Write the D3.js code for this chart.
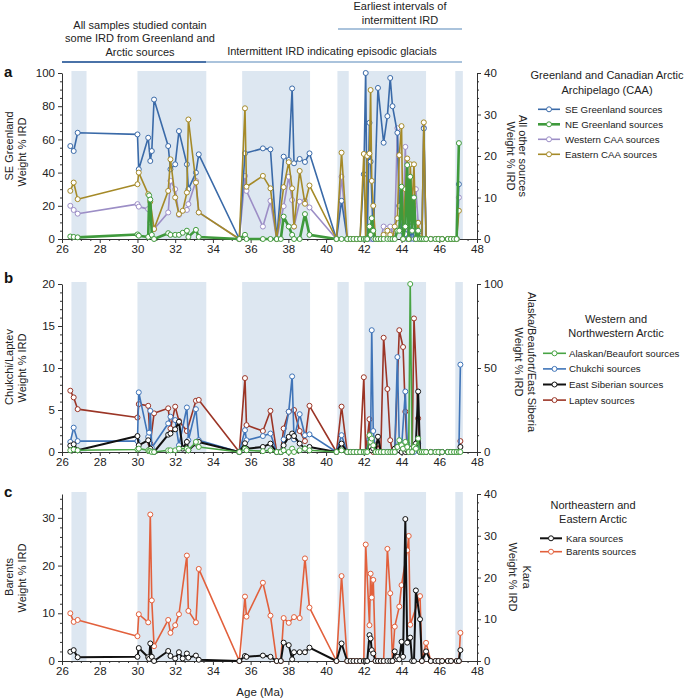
<!DOCTYPE html>
<html><head><meta charset="utf-8">
<script src="https://cdn.jsdelivr.net/npm/d3@7"></script>
<style>
body{margin:0;background:#fff;}
svg{font-family:"Liberation Sans",Arial,Helvetica,sans-serif;}
</style></head><body>
<svg id="chart" width="685" height="699"></svg>
<script>
// ---------------- DATA ----------------
const ages = [
26.44,26.62,26.83,30.00,30.07,30.57,30.62,30.68,30.76,30.88,
31.63,31.75,32.00,32.20,32.40,32.62,32.70,33.10,33.25,35.40,
35.70,35.78,36.65,37.05,37.38,37.60,37.75,38.02,38.20,38.30,
38.60,38.88,39.12,40.55,40.82,41.12,41.30,41.45,41.62,41.80,
42.00,42.10,42.18,42.30,42.36,42.42,42.50,42.62,42.75,42.90,
43.05,43.25,43.40,43.52,43.64,43.78,43.88,44.00,44.08,44.20,
44.30,44.38,44.46,44.56,44.66,44.76,44.88,44.98,45.08,45.18,
45.30,45.55,45.80,45.95,46.15,46.45,46.62,46.78,46.92,47.04,
47.12];

// Panel a (SE Greenland on left axis, others on right axis)
const seGreenland = [
56,53,64,63,42,61,null,47,53,84,
56,42,45,65,null,45,30,40,51,0,
51.6,null,54.6,54,0,null,49.6,47.6,90.7,45.6,
48.2,46.4,51.6,0,23,0,0,0,0,0,
39,100,0,70,46.6,null,0,null,91,null,
58,74,97,80,null,64,20,5,0,3,
0,8,0,5,0,3,0,2,0,66.6,
0,0,0,0,0,0,0,0,0,33,
null];
const neGreenland = [
0.6,0.5,0.4,1.1,0.8,0.5,10.5,9.5,1,0,
1.4,1,1,1,1.5,2,0.5,2.2,0.5,0,
1,0,0,0,0,0,5.4,3,1,0,
0,6,1,0,0,0,0,0,0,0,
0,0,0,3,1,5,2,0,0,0,
0,0,0,0,0,2,2,12.6,0,3,
17.8,0,15,2,10,0,2,0,0,0,
0,0,0,0,0,0,0,0,0,23.1,
null];
const westernCAA = [
8,7,6.1,8.4,7.8,7.2,null,4,null,2.4,
6.4,14,12,5.8,null,7,8.4,14,6.4,0,
15.2,11.6,3,9.2,0,null,7.9,15,9.4,3,
9,9.2,7.6,0,15,0,0,0,0,0,
0,0,0,0,0,0,0,0,0,0,
3,2.5,3,1,2,26.7,8,12,3,22.2,
6,2,10,4,8,12,4,0,0,26.8,
0,0,0,0,0,0,0,0,0,10,
null];
const easternCAA = [
11.6,13.6,9.6,13.2,16,10.8,null,9,null,2.4,
11.6,19.2,10,6,6.8,11.2,28.8,13.6,6.4,0,
31.5,12.6,15.2,12.2,0,null,12.5,18.5,12.2,3,
16.4,8.5,12.9,0,20.8,0,0,0,0,0,
20.5,0,20,20.6,35.9,14,8,0,0,0,
1,2,1,0,3,5,20.2,27.2,0,12,
19.4,0,18,8,18,0,3.9,0,0,28.1,
0,0,0,0,0,0,0,0,0,6.8,
null];

// Panel b (Chukchi, Laptev on left; Alaskan/Beaufort, East Siberian on right)
const alaskanBeaufort = [
1,1.5,1,1.5,2,1,0.5,0.5,0,0,
1,1,1,2,null,2,1,6,3,0,
2,1,0.5,1,0,0,1,0,2,0,
1,2,1,0,1,0,0,0,0,0,
0,0,0,10,6,8,4,0,0,0,
0,0,0,0,0,3,7,4,2,6,
3,0,100,0,3,2,8,0,0,0,
0,0,0,0,0,0,0,0,0,0,
0];
const chukchi = [
1.2,2.9,1.3,1.3,7.1,1.8,2.3,4.9,0.5,null,
3.4,4.2,3.8,0.8,null,5.3,1.4,5.1,1.4,0,
2.6,1.4,1.9,2.2,0,0,1.5,4.8,9.0,1.5,
4.5,2.0,2.1,0,2.0,0,0,0,0,0,
0,0,null,1.5,1.5,14.5,2.5,0,0,0,
0,0,0,0,0,11.3,1,0.5,null,7.2,
1,0,0,0,0,0.5,1,0,0,0,
0,0,0,0,0,0,0,0,0,0,
10.4];
const eastSiberian = [
3.8,4.6,1,9.5,4,7,null,2,null,0,
10.3,11,13.5,18,2,6,1,5,6,0,
5.2,2,3,5,0,0,4,9,11,9.5,
5,2,3,0,5,0,0,0,0,0,
0,0,null,2,3,1,2,0,9.1,0,
0,0,0,0,2,3,1,0,2,0,
1,0,2,0,2,5,36,0,0,0,
0,0,0,0,0,0,0,0,0,0,
3];
const laptev = [
7.3,6.5,5.1,4.1,5.7,5.5,null,1.0,null,4.6,
5.2,2.8,5.4,3.7,null,2.5,null,6.1,6.2,0,
8.8,3.2,2.5,4.9,0,0,2.8,4.8,null,5.0,
2.5,1.3,5.5,0,5.4,0,0,0,0,0,
8.9,0,null,3.9,0.5,null,0,0,1.0,0,
13.6,7.5,1.4,0,0,null,14.5,null,12.5,4.8,
0,0,0,0,15.9,null,4.0,0,0,0,
0,0,0,0,0,0,0,0,0,0,
1.3];

// Panel c (Barents on left, Kara on right)
const kara = [
2.2,2.6,0.9,1.0,3.1,0.9,0.5,4.2,1.0,0,
2.4,1.2,0.6,2.1,0.6,1.8,0.8,1.3,0.3,0,
1.2,1.0,1.3,1.0,0,0,4.4,3.8,0.4,2.1,
2.1,2.1,3.2,0,4.2,0,0,0,0,0,
0,0,0,6.2,5.4,2.6,1.8,0,0,0,
0,0,0,0,2.3,1.0,0.4,4.6,1.0,34,
4.4,null,5.6,0,0,16.9,null,10.0,0,null,
2.3,0,0,0,0,0,0,null,0,0,
2.6];
const barents = [
10.0,8.2,8.6,5.2,9.8,8.1,null,30.7,12.7,3.1,
8.6,5.9,7.5,9.8,null,22.1,10.5,8.1,19.3,0,
13.5,9.3,16.4,9.5,0,0,9.0,8.0,null,9.2,
9.0,21.5,11.2,0,17.8,0,0,0,0,0,
0,24.4,null,7.5,18.3,13.3,17.0,0,0,0,
0,23.5,14.2,0,7.2,null,11.4,15.9,null,null,
23.2,26.2,7.6,null,null,null,null,13.6,0,null,
3.8,0,0,0,0,0,0,null,0,0,
5.9];

// Shaded glacial intervals (Ma)
const glacialBands = [[26.5,27.3],[30.0,33.65],[35.55,39.15],[40.6,41.2],[42.03,45.3],[46.85,47.25]];
const xTicks = d3.range(26, 49, 2);

// ---------------- LAYOUT / STYLE ----------------
const svg = d3.select('#chart');
const x = d3.scaleLinear().domain([26, 48]).range([62, 477]);
const XL = 62, XR = 477;
const FONT = '"Liberation Sans",Arial,Helvetica,sans-serif';

const panels = [
  { letter:'a', letterY:77, y0:239, y1:73, ldom:[0,100], lmaj:20, lmin:5, rdom:[0,40], rmaj:10, rmin:2,
    leftTitle:[['SE Greenland',13,146],['Weight % IRD',26,152]],
    rightTitle:[['All other sources',519,156],['Weight % IRD',507,156]],
    legendTitle:[['Greenland and Canadian Arctic',607,79],['Archipelago (CAA)',607,93.5]],
    legend:{x1:538,x2:560,tx:565,y:109.3,dy:15},
    series:[
      {name:'SE Greenland sources', v:seGreenland, ax:'L', color:'#3a6aa8', w:1.6},
      {name:'NE Greenland sources', v:neGreenland, ax:'R', color:'#3f9a3c', w:2.6},
      {name:'Western CAA sources', v:westernCAA, ax:'R', color:'#9c8ec6', w:1.6},
      {name:'Eastern CAA sources', v:easternCAA, ax:'R', color:'#a58a28', w:1.6}],
    order:[2,0,3,1] },
  { letter:'b', letterY:283, y0:452, y1:284, ldom:[0,20], lmaj:5, lmin:1, rdom:[0,100], rmaj:50, rmin:10,
    leftTitle:[['Chukchi/Laptev',13,367],['Weight % IRD',26,368]],
    rightTitle:[['Alaska/Beaufort/East Siberia',528,362],['Weight % IRD',515,362]],
    legendTitle:[['Western and',616,323],['Northwestern Arctic',616,337]],
    legend:{x1:543,x2:566,tx:569,y:353.3,dy:15.6},
    series:[
      {name:'Alaskan/Beaufort sources', v:alaskanBeaufort, ax:'R', color:'#48a444', w:1.6},
      {name:'Chukchi sources', v:chukchi, ax:'L', color:'#3f74b8', w:1.6},
      {name:'East Siberian sources', v:eastSiberian, ax:'R', color:'#111111', w:2.0},
      {name:'Laptev sources', v:laptev, ax:'L', color:'#9b3526', w:1.6}],
    order:[3,1,2,0] },
  { letter:'c', letterY:497, y0:661, y1:494, ldom:[0,35], lmaj:10, lmin:2, rdom:[0,40], rmaj:10, rmin:2,
    leftTitle:[['Barents',13,577],['Weight % IRD',26,578]],
    rightTitle:[['Kara',523,577],['Weight % IRD',509,577]],
    legendTitle:[['Northeastern and',593,509],['Eastern Arctic',593,523]],
    legend:{x1:540,x2:562,tx:566,y:538.3,dy:13.4},
    series:[
      {name:'Kara sources', v:kara, ax:'R', color:'#111111', w:2.0},
      {name:'Barents sources', v:barents, ax:'L', color:'#e2603c', w:1.6}],
    order:[1,0] }
];

// ---------------- TOP ANNOTATIONS ----------------
const ann = svg.append('g').attr('font-size', 11).attr('fill', '#222');
[['All samples studied contain',29],['some IRD from Greenland and',42],['Arctic sources',56]]
  .forEach(([t,y]) => ann.append('text').attr('x',140).attr('y',y).attr('text-anchor','middle').text(t));
ann.append('text').attr('x',332).attr('y',55).attr('text-anchor','middle').text('Intermittent IRD indicating episodic glacials');
[['Earliest intervals of',10],['intermittent IRD',23.5]]
  .forEach(([t,y]) => ann.append('text').attr('x',400).attr('y',y).attr('text-anchor','middle').text(t));
svg.append('line').attr('x1',62).attr('x2',206).attr('y1',62).attr('y2',62).attr('stroke','#4a72a8').attr('stroke-width',2);
svg.append('line').attr('x1',206).attr('x2',462).attr('y1',62).attr('y2',62).attr('stroke','#aac3dc').attr('stroke-width',2);
svg.append('line').attr('x1',338).attr('x2',462).attr('y1',29).attr('y2',29).attr('stroke','#aac3dc').attr('stroke-width',2);

// ---------------- PANELS ----------------
function minorVals(dom, maj, min) {
  return d3.range(dom[0], dom[1] + 1e-9, min).filter(v => Math.abs(v/maj - Math.round(v/maj)) > 1e-6);
}
function styleAxis(g, fs) {
  g.attr('font-family', FONT).attr('font-size', fs);
  g.selectAll('path.domain').attr('stroke', '#333');
  g.selectAll('.tick line').attr('stroke', '#333');
  g.selectAll('.tick text').attr('fill', '#222');
}

panels.forEach(p => {
  const g = svg.append('g');
  const yL = d3.scaleLinear().domain(p.ldom).range([p.y0, p.y1]);
  const yR = d3.scaleLinear().domain(p.rdom).range([p.y0, p.y1]);

  // bands
  g.append('g').selectAll('rect').data(glacialBands).join('rect')
    .attr('x', d => x(d[0])).attr('width', d => x(d[1]) - x(d[0]))
    .attr('y', p.y1 - 2).attr('height', p.y0 - p.y1 + 2)
    .attr('fill', '#dde7f1');

  // left axis
  const la = g.append('g').attr('transform', `translate(${XL},0)`)
    .call(d3.axisLeft(yL).tickValues(d3.range(p.ldom[0], p.ldom[1] + 1e-9, p.lmaj)).tickSize(4).tickSizeOuter(0).tickPadding(3));
  styleAxis(la, 11.5);
  const lm = g.append('g').attr('transform', `translate(${XL},0)`)
    .call(d3.axisLeft(yL).tickValues(minorVals(p.ldom, p.lmaj, p.lmin)).tickSize(2).tickSizeOuter(0).tickFormat(''));
  lm.select('path.domain').remove(); styleAxis(lm, 11.5);

  // right axis
  const ra = g.append('g').attr('transform', `translate(${XR},0)`)
    .call(d3.axisRight(yR).tickValues(d3.range(p.rdom[0], p.rdom[1] + 1e-9, p.rmaj)).tickSize(4).tickSizeOuter(0).tickPadding(3));
  styleAxis(ra, 11.5);
  const rm = g.append('g').attr('transform', `translate(${XR},0)`)
    .call(d3.axisRight(yR).tickValues(minorVals(p.rdom, p.rmaj, p.rmin)).tickSize(2).tickSizeOuter(0).tickFormat(''));
  rm.select('path.domain').remove(); styleAxis(rm, 11.5);

  // x axis
  const xa = g.append('g').attr('transform', `translate(0,${p.y0})`)
    .call(d3.axisBottom(x).tickValues(xTicks).tickSize(4).tickSizeOuter(0).tickPadding(2));
  styleAxis(xa, 11.5);
  const xm = g.append('g').attr('transform', `translate(0,${p.y0})`)
    .call(d3.axisBottom(x).tickValues(d3.range(26, 48.01, 0.5).filter(v => v % 2 !== 0)).tickSize(2).tickSizeOuter(0).tickFormat(''));
  xm.select('path.domain').remove(); styleAxis(xm, 11.5);

  // series
  p.order.forEach(i => {
    const s = p.series[i];
    const ys = s.ax === 'L' ? yL : yR;
    const pts = ages.map((a, k) => ({a, v: s.v[k]})).filter(d => d.v !== null);
    g.append('path').datum(pts)
      .attr('fill', 'none').attr('stroke', s.color).attr('stroke-width', s.w).attr('stroke-linejoin', 'round')
      .attr('d', d3.line().x(d => x(d.a)).y(d => ys(d.v)));
    g.append('g').selectAll('circle').data(pts).join('circle')
      .attr('cx', d => x(d.a)).attr('cy', d => ys(d.v)).attr('r', 2.5)
      .attr('fill', '#fff').attr('stroke', s.color).attr('stroke-width', 1);
  });

  // panel letter
  g.append('text').attr('x', 4).attr('y', p.letterY).attr('font-size', 15).attr('font-weight', 'bold').attr('fill', '#111').text(p.letter);

  // axis titles
  p.leftTitle.forEach(([t, bx, cy]) => g.append('text')
    .attr('transform', `translate(${bx},${cy}) rotate(-90)`).attr('text-anchor', 'middle')
    .attr('font-size', 11).attr('fill', '#222').text(t));
  p.rightTitle.forEach(([t, bx, cy]) => g.append('text')
    .attr('transform', `translate(${bx},${cy}) rotate(90)`).attr('text-anchor', 'middle')
    .attr('font-size', 11).attr('fill', '#222').text(t));

  // legend
  p.legendTitle.forEach(([t, cx, y]) => g.append('text').attr('x', cx).attr('y', y)
    .attr('text-anchor', 'middle').attr('font-size', 11).attr('fill', '#222').text(t));
  p.series.forEach((s, i) => {
    const yy = p.legend.y + i * p.legend.dy;
    g.append('line').attr('x1', p.legend.x1).attr('x2', p.legend.x2).attr('y1', yy).attr('y2', yy)
      .attr('stroke', s.color).attr('stroke-width', s.w);
    g.append('circle').attr('cx', (p.legend.x1 + p.legend.x2) / 2).attr('cy', yy).attr('r', 2.5)
      .attr('fill', '#fff').attr('stroke', s.color).attr('stroke-width', 1);
    g.append('text').attr('x', p.legend.tx).attr('y', yy + 3.5).attr('font-size', 9.7).attr('fill', '#222').text(s.name);
  });
});

svg.append('text').attr('x', 260).attr('y', 696).attr('text-anchor', 'middle')
  .attr('font-size', 11.5).attr('fill', '#222').text('Age (Ma)');
</script></body></html>
